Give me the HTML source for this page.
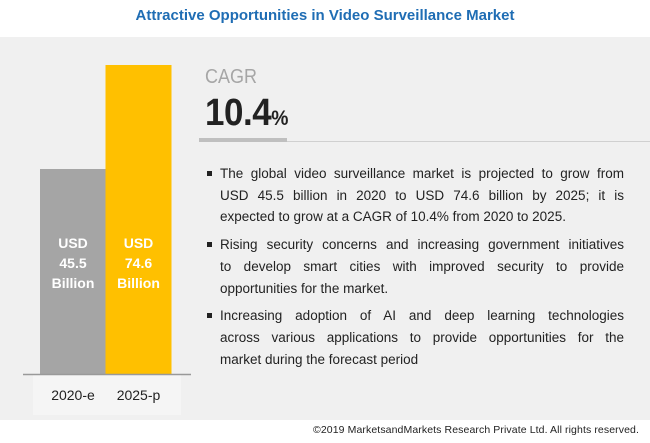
<!DOCTYPE html>
<html><head><meta charset="utf-8"><style>
body{margin:0;width:650px;height:443px;background:#fff;position:relative;overflow:hidden;font-family:"Liberation Sans",sans-serif}
.abs{position:absolute}
#title{left:0;width:650px;top:7px;text-align:center;color:#1f6db4;font-weight:bold;font-size:15px}
#panel{left:0;top:37px;width:650px;height:383px;background:#f0f0f0}
#cagr{left:205px;top:66px;color:#a6a6a6;font-size:20px;transform:scaleX(0.9);transform-origin:left}
#val{left:205px;top:92px;color:#222;font-size:38px;font-weight:bold;letter-spacing:-0.5px;transform:scaleX(0.92);transform-origin:left}
#val span{font-size:21px;font-weight:bold}
#bul{position:absolute;left:207px;top:163px;width:417px;font-size:13.5px;color:#222;line-height:21.7px}
.p{position:relative;padding-left:13px;margin-bottom:6px}
.p:before{content:"";position:absolute;left:0;top:8px;width:5px;height:5px;background:#222}
.l{display:block;text-align:justify;text-align-last:justify;white-space:nowrap}
.l.e{text-align-last:left}
#foot{right:11px;top:424px;font-size:10.5px;color:#222;letter-spacing:0.1px}
</style></head><body>
<div class="abs" id="title">Attractive Opportunities in Video Surveillance Market</div>
<div class="abs" id="panel"></div>
<svg class="abs" style="left:0;top:0" width="650" height="443" id="chart"></svg>
<div class="abs" id="cagr">CAGR</div>
<div class="abs" id="val">10.4<span>%</span></div>
<div id="bul">
<div class="p"><span class="l">The global video surveillance market is projected to grow from</span><span class="l">USD 45.5 billion in 2020 to USD 74.6 billion by 2025; it is</span><span class="l e">expected to grow at a CAGR of 10.4% from 2020 to 2025.</span></div>
<div class="p"><span class="l">Rising security concerns and increasing government initiatives</span><span class="l">to develop smart cities with improved security to provide</span><span class="l e">opportunities for the market.</span></div>
<div class="p"><span class="l">Increasing adoption of AI and deep learning technologies</span><span class="l">across various applications to provide opportunities for the</span><span class="l e">market during the forecast period</span></div>
</div>
<div class="abs" id="foot">©2019 MarketsandMarkets Research Private Ltd. All rights reserved.</div>
<script>
const categories=["2020-e","2025-p"];
const values=[45.5,74.6];
const valueLabels=["45.5","74.6"];
const colors=["#a5a5a5","#ffc000"];
const NS="http://www.w3.org/2000/svg";
const svg=document.getElementById('chart');
const base=374,y0=-11.86,k=3.574;
function y(v){return base-(v-y0)*k;}
function x(i){return 40+i*65.5;}
function mk(t,a){const e=document.createElementNS(NS,t);for(const n in a)e.setAttribute(n,a[n]);svg.appendChild(e);return e;}
const lb=mk('rect',{x:33,y:374,width:148,height:41,fill:'#f5f5f5'});


categories.forEach((c,i)=>{
 const r=mk('rect',{x:x(i),y:y(values[i]),width:66,height:base-y(values[i]),fill:colors[i]});
 
 
 ["USD",valueLabels[i],"Billion"].forEach((s,j)=>{
  const t=mk('text',{x:x(i)+33,y:248+j*20,'text-anchor':'middle','font-size':14,'font-weight':'bold',fill:'#fff','font-family':'Liberation Sans,sans-serif'});
  t.textContent=s;
  
  
 });
 const xl=mk('text',{x:x(i)+33,y:400,'text-anchor':'middle','font-size':14,fill:'#222','font-family':'Liberation Sans,sans-serif'});
 xl.textContent=c;
 
 
});
const ax=mk('line',{x1:23,x2:191,y1:374.5,y2:374.5,stroke:'#999','stroke-width':1.5});


const ul1=mk('rect',{x:199,y:138,width:88,height:4,fill:'#bfbfbf'});


const ul2=mk('line',{x1:287,x2:650,y1:141.5,y2:141.5,stroke:'#d0d0d0','stroke-width':1});


</script>
</body></html>
